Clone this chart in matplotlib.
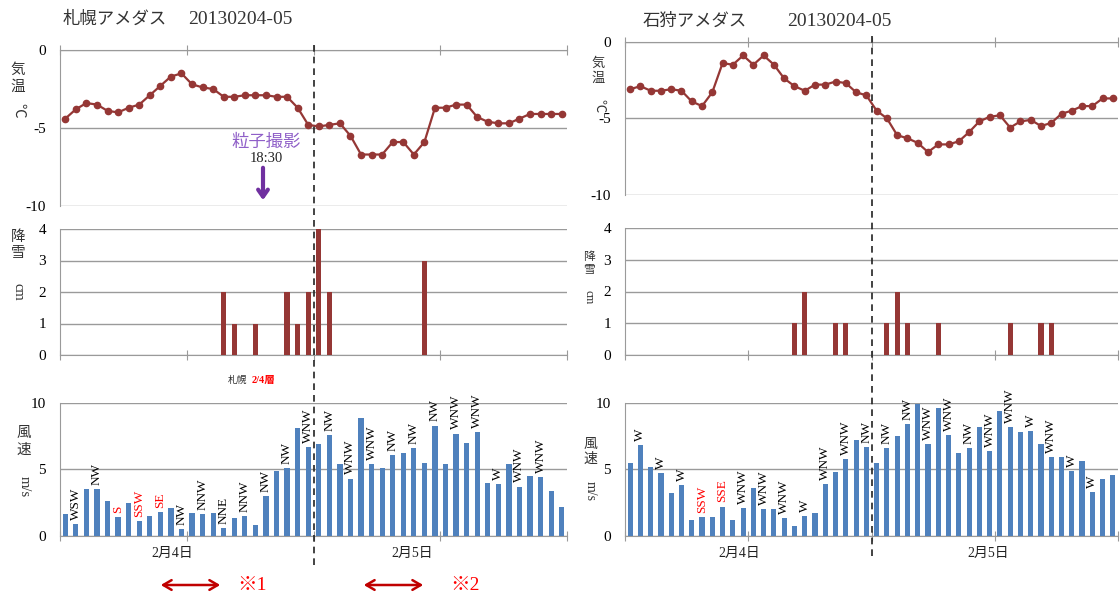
import matplotlib
matplotlib.use('Agg')
import matplotlib.pyplot as plt
import numpy as np
from matplotlib.lines import Line2D

W, H = 1120, 597
SERIF = ['Liberation Serif', 'DejaVu Serif']
SERIF_JP = ['Liberation Serif', 'Noto Sans CJK JP']
DARKRED = '#953735'
BLUE = '#4F81BD'
GRID = '#9a9a9a'

# hourly categories: 2/4 1:00 ... 2/5 24:00
hours = np.arange(48)
day_ticks = [0, 12, 24, 36, 48]
date_labels = ['2月4日', '2月5日']

# 札幌
sapporo_temp = [-4.4, -3.8, -3.4, -3.5, -3.9, -4.0, -3.7, -3.5, -2.9, -2.3, -1.7, -1.5,
                -2.2, -2.4, -2.5, -3.0, -3.0, -2.9, -2.9, -2.9, -3.0, -3.0, -3.7, -4.8,
                -4.9, -4.8, -4.7, -5.5, -6.7, -6.7, -6.7, -5.9, -5.9, -6.7, -5.9, -3.7,
                -3.7, -3.5, -3.5, -4.3, -4.6, -4.7, -4.7, -4.4, -4.1, -4.1, -4.1, -4.1]
sapporo_snow = [0, 0, 0, 0, 0, 0, 0, 0, 0, 0, 0, 0, 0, 0, 0, 2, 1, 0, 1, 0, 0, 2, 1, 2,
                4, 2, 0, 0, 0, 0, 0, 0, 0, 0, 3, 0, 0, 0, 0, 0, 0, 0, 0, 0, 0, 0, 0, 0]
sapporo_wind = [1.6, 0.9, 3.5, 3.5, 2.6, 1.4, 2.5, 1.1, 1.5, 1.8, 2.1, 0.5,
                1.7, 1.6, 1.7, 0.6, 1.3, 1.5, 0.8, 3.0, 4.9, 5.1, 8.1, 6.7,
                6.9, 7.6, 5.4, 4.3, 8.9, 5.4, 5.1, 6.1, 6.2, 6.6, 5.5, 8.3,
                5.4, 7.7, 7.0, 7.8, 4.0, 3.9, 5.4, 3.7, 4.5, 4.4, 3.4, 2.2]
sapporo_dir = ['', 'WSW', '', 'NW', '', 'S', '', 'SSW', '', 'SE', '', 'NW',
               '', 'NNW', '', 'NNE', '', 'NNW', '', 'NW', '', 'NW', '', 'WNW',
               '', 'NW', '', 'WNW', '', 'WNW', '', 'NW', '', 'NW', '', 'NW',
               '', 'WNW', '', 'WNW', '', 'W', '', 'WNW', '', 'WNW', '', '']

# 石狩
ishikari_temp = [-3.1, -2.9, -3.2, -3.2, -3.1, -3.2, -3.9, -4.2, -3.3, -1.4, -1.5, -0.9,
                 -1.5, -0.9, -1.5, -2.4, -2.9, -3.2, -2.8, -2.8, -2.6, -2.7, -3.3, -3.5,
                 -4.5, -5.0, -6.1, -6.3, -6.6, -7.2, -6.7, -6.7, -6.5, -5.9, -5.2, -4.9,
                 -4.8, -5.6, -5.2, -5.1, -5.5, -5.3, -4.7, -4.5, -4.2, -4.2, -3.7, -3.7]
ishikari_snow = [0, 0, 0, 0, 0, 0, 0, 0, 0, 0, 0, 0, 0, 0, 0, 0, 1, 2, 0, 0, 1, 1, 0, 0,
                 0, 1, 2, 1, 0, 0, 1, 0, 0, 0, 0, 0, 0, 1, 0, 0, 1, 1, 0, 0, 0, 0, 0, 0]
ishikari_wind = [5.5, 6.8, 5.2, 4.7, 3.2, 3.8, 1.2, 1.4, 1.4, 2.2, 1.2, 2.1,
                 3.6, 2.0, 2.0, 1.3, 0.7, 1.5, 1.7, 3.9, 4.8, 5.8, 7.2, 6.7,
                 5.5, 6.6, 7.5, 8.4, 9.9, 6.9, 9.6, 7.6, 6.2, 6.6, 8.2, 6.4,
                 9.4, 8.2, 7.8, 7.9, 6.9, 5.9, 5.9, 4.9, 5.6, 3.3, 4.3, 4.6]
ishikari_dir = ['', 'W', '', 'W', '', 'W', '', 'SSW', '', 'SSE', '', 'WNW',
                '', 'WNW', '', 'WNW', '', 'W', '', 'WNW', '', 'WNW', '', 'NW',
                '', 'NW', '', 'NW', '', 'WNW', '', 'WNW', '', 'NW', '', 'WNW',
                '', 'WNW', '', 'W', '', 'WNW', '', 'W', '', 'W', '', '']

fig = plt.figure(figsize=(W / 100, H / 100), dpi=100)


def fx(x):
    return x / W


def fy(y):
    return 1 - y / H


def px_axes(x0, x1, y_top, y_bot):
    return fig.add_axes([fx(x0), fy(y_bot), (x1 - x0) / W, (y_bot - y_top) / H])


def style_axes(ax, ylim, yticks, top_axis=False):
    ax.set_xlim(0, 48)
    ax.set_ylim(*ylim)
    ax.set_yticks(yticks)
    ax.set_yticklabels([str(t) for t in yticks], fontfamily=SERIF, fontsize=11)
    ax.tick_params(axis='y', length=0, pad=10)
    ax.grid(axis='y', color=GRID, lw=1)
    ax.set_axisbelow(True)
    for s in ax.spines.values():
        s.set_visible(False)
    ax.spines['left'].set_visible(True)
    ax.spines['left'].set_color(GRID)
    side = 'top' if top_axis else 'bottom'
    ax.spines[side].set_visible(True)
    ax.spines[side].set_color(GRID)
    if top_axis:
        ax.xaxis.tick_top()
    ax.set_xticks(day_ticks)
    ax.set_xticklabels([])
    ax.tick_params(axis='x', direction='inout', length=7, color=GRID)
    ax.patch.set_alpha(0)


def ylabel(x, y_chars, chars, y_unit, unit, size):
    for yy, c in zip(y_chars, chars):
        fig.text(fx(x), fy(yy), c, family=SERIF_JP, fontsize=size,
                 ha='center', va='center', color='#333333')
    fig.text(fx(x), fy(y_unit), unit, family=SERIF_JP, fontsize=size,
             ha='center', va='center', rotation=-90, color='#333333')


def station(x0, x1, temp_y, snow_y, wind_y, temp, snow, wind, dirs, date_x):
    ax_t = px_axes(x0, x1, *temp_y)
    ax_t.plot(hours + 0.5, temp, color=DARKRED, lw=1.6, marker='o', ms=4.5,
              clip_on=False, zorder=3)
    style_axes(ax_t, (-10, 0), [0, -5, -10], top_axis=True)

    ax_s = px_axes(x0, x1, *snow_y)
    ax_s.bar(hours + 0.5, snow, width=0.5, color=DARKRED, zorder=3)
    style_axes(ax_s, (0, 4), [0, 1, 2, 3, 4])

    ax_w = px_axes(x0, x1, *wind_y)
    ax_w.bar(hours + 0.5, wind, width=0.5, color=BLUE, zorder=3)
    style_axes(ax_w, (0, 10), [0, 5, 10])
    for i, (v, d) in enumerate(zip(wind, dirs)):
        if d:
            ax_w.annotate(d, (i + 0.5, v), xytext=(0, 3), textcoords='offset points',
                          rotation=90, ha='center', va='bottom', fontsize=9.5,
                          family=SERIF, color='red' if d.startswith('S') else 'black',
                          annotation_clip=False)
    for xd, lab in zip(date_x, date_labels):
        ax_w.text(xd, -1.35, lab, family=SERIF_JP, fontsize=10, ha='center',
                  va='center', color='#222222')

    # dashed line at midnight between 2/4 and 2/5
    xm = ax_w.transData.transform((24, 0))[0] / W
    return xm


# 札幌アメダス
xm = station(60, 567, (50, 206), (229, 355), (403, 535.7),
             sapporo_temp, sapporo_snow, sapporo_wind, sapporo_dir, [10.6, 33.3])
fig.add_artist(Line2D([xm, xm], [fy(45), fy(567)], transform=fig.transFigure,
                      color='#222222', lw=1.2, ls=(0, (4, 3))))
fig.text(fx(63), fy(20), '札幌アメダス', family=SERIF_JP, fontsize=12.5,
         va='center', color='#333333')
fig.text(fx(188), fy(20), '20130204-05', family=SERIF, fontsize=14,
         va='center', color='#333333')
ylabel(18, [70, 87], ['気', '温'], 110, '℃', 10.5)
ylabel(18, [237, 253], ['降', '雪'], 292, 'cm', 10.5)
ylabel(24, [433, 450], ['風', '速'], 487, 'm/s', 10.5)

# 石狩アメダス
xm2 = station(625, 1118, (41.7, 195), (228, 355), (403, 535.7),
              ishikari_temp, ishikari_snow, ishikari_wind, ishikari_dir, [11.1, 35.4])
fig.add_artist(Line2D([xm2, xm2], [fy(36), fy(560)], transform=fig.transFigure,
                      color='#222222', lw=1.2, ls=(0, (4, 3))))
fig.text(fx(643), fy(22), '石狩アメダス', family=SERIF_JP, fontsize=12.5,
         va='center', color='#333333')
fig.text(fx(787), fy(22), '20130204-05', family=SERIF, fontsize=14,
         va='center', color='#333333')
ylabel(598, [64, 79], ['気', '温'], 106, '℃', 9.5)
ylabel(589, [257, 270], ['降', '雪'], 297, 'cm', 8.5)
ylabel(590, [444, 459], ['風', '速'], 491, 'm/s', 10)

# 粒子撮影 18:30
fig.text(fx(266), fy(143), '粒子撮影', family=SERIF_JP, fontsize=12.5,
         ha='center', va='center', color='#8F5FC8')
fig.text(fx(266), fy(158), '18:30', family=SERIF, fontsize=10.5,
         ha='center', va='center', color='#222222')
fig.add_artist(matplotlib.patches.FancyArrowPatch(
    (fx(263), fy(165)), (fx(263), fy(203)), transform=fig.transFigure,
    arrowstyle='->,head_length=5,head_width=3.5', color='#7030A0', lw=3))

fig.text(fx(228), fy(380), '札幌', family=SERIF_JP, fontsize=7,
         va='center', color='#333333')
fig.text(fx(252), fy(380), '2/4層', family=SERIF_JP, fontsize=7.5,
         va='center', color='red', fontweight='bold')

# ※ markers below the axis
for xa, xb, xt, lab in [(158, 223, 237, '※1'), (361, 426, 450, '※2')]:
    fig.add_artist(matplotlib.patches.FancyArrowPatch(
        (fx(xa), fy(585)), (fx(xb), fy(585)), transform=fig.transFigure,
        arrowstyle='<->,head_length=6,head_width=3.5', color='#C00000', lw=1.8))
    fig.text(fx(xt), fy(585), lab, family=SERIF_JP, fontsize=14,
             va='center', color='red')

fig.savefig('out.png', dpi=100)
